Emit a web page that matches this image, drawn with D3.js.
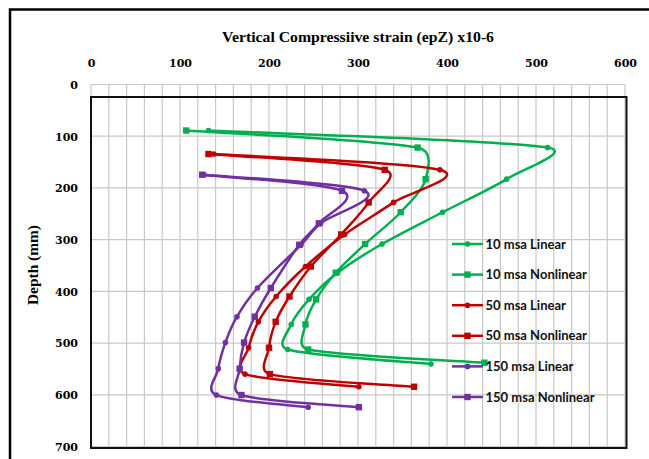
<!DOCTYPE html>
<html>
<head>
<meta charset="utf-8">
<script src="https://cdn.jsdelivr.net/npm/d3@7"></script>
<style>
  html, body { margin: 0; padding: 0; background: #fff; }
  svg { display: block; }
</style>
</head>
<body>
<svg id="chart" width="649" height="459"></svg>
<script>
// Axis ticks
const strainTicks = [0, 100, 200, 300, 400, 500, 600];
const depthTicks = [0, 100, 200, 300, 400, 500, 600, 700];

// 10 msa (green)
const depth10Lin = [89, 122, 183, 247, 308.5, 364, 415.5, 464, 512.5, 540.5];
const strain10Lin = [132, 513, 467, 395, 327, 277, 245, 225, 221, 382];
const depth10Non = [89, 122, 183, 247, 308.5, 364, 415.5, 464, 512.5, 538];
const strain10Non = [107, 367, 376, 348, 308, 275, 253, 241, 244, 442];

// 50 msa (red)
const depth50 = [134.5, 165, 228, 290, 352, 410, 459, 509, 560, 584.5];
const strain50Lin = [138, 392, 340, 285, 241, 208, 188, 177, 173, 301];
const strain50Non = [132, 330, 312, 281, 247, 223, 207.5, 200, 201, 363];

// 150 msa (purple)
const depth150 = [174.5, 205.5, 268.5, 310, 393.5, 449, 499, 549.5, 600.5, 624];
const strain150Lin = [127, 307, 258, 236, 187, 164, 151, 143, 141, 244];
const strain150Non = [125, 282, 256, 234, 202, 184, 172, 167, 169, 301];

const seriesNames = ["10 msa Linear", "10 msa Nonlinear", "50 msa Linear",
                     "50 msa Nonlinear", "150 msa Linear", "150 msa Nonlinear"];
const seriesColors = ["#00B050", "#00B050", "#C00000", "#C00000", "#7030A0", "#7030A0"];
const seriesMarkers = ["circle", "square", "circle", "square", "circle", "square"];

const series = [
  { strain: strain10Lin, depth: depth10Lin },
  { strain: strain10Non, depth: depth10Non },
  { strain: strain50Lin, depth: depth50 },
  { strain: strain50Non, depth: depth50 },
  { strain: strain150Lin, depth: depth150 },
  { strain: strain150Non, depth: depth150 }
].map((s, i) => ({
  name: seriesNames[i], color: seriesColors[i], marker: seriesMarkers[i],
  points: s.strain.map((v, j) => ({ x: v, y: s.depth[j] }))
}));

const svg = d3.select("#chart");

const x = d3.scaleLinear().domain([0, 600]).range([91, 625]);
const y = d3.scaleLinear().domain([0, 700]).range([84.5, 446.5]);

// Outer chart frame
svg.append("rect")
  .attr("x", 10).attr("y", 9.5)
  .attr("width", 700).attr("height", 500)
  .attr("fill", "none").attr("stroke", "#000").attr("stroke-width", 2.5);

// Gridlines
const grid = svg.append("g");
grid.selectAll("line.v")
  .data(d3.range(0, 601, 20))
  .join("line")
  .attr("x1", d => x(d)).attr("x2", d => x(d))
  .attr("y1", y(0)).attr("y2", y(700))
  .attr("stroke", "#c8c8c8").attr("stroke-width", 1.2);
grid.selectAll("line.h")
  .data(depthTicks)
  .join("line")
  .attr("x1", x(0)).attr("x2", x(600))
  .attr("y1", d => y(d)).attr("y2", d => y(d))
  .attr("stroke", "#c8c8c8").attr("stroke-width", 1.2);

// Plot-area border
svg.append("rect")
  .attr("x", x(0)).attr("y", y(0) + 12.5)
  .attr("width", x(600) - x(0) + 1.5)
  .attr("height", y(700) - y(0) - 11)
  .attr("fill", "none").attr("stroke", "#111").attr("stroke-width", 2);

// Axes (top strain axis, left depth axis)
const tickFont = "'DejaVu Serif', serif";
const xAxis = d3.axisTop(x).tickValues(strainTicks).tickSize(0).tickPadding(0);
const gx = svg.append("g").attr("transform", "translate(0,67)").call(xAxis);
gx.select(".domain").remove();
gx.selectAll("text")
  .attr("font-family", tickFont).attr("font-weight", "bold")
  .attr("font-size", 11).attr("fill", "#000").attr("dy", 0);

const yAxis = d3.axisLeft(y).tickValues(depthTicks).tickSize(0).tickPadding(0);
const gy = svg.append("g").attr("transform", "translate(78,0)").call(yAxis);
gy.select(".domain").remove();
gy.selectAll("text")
  .attr("font-family", tickFont).attr("font-weight", "bold")
  .attr("font-size", 11).attr("fill", "#000").attr("dy", "0.35em");

// Titles
svg.append("text")
  .attr("x", 358).attr("y", 41.5)
  .attr("text-anchor", "middle")
  .attr("font-family", "'Liberation Serif', serif").attr("font-weight", "bold")
  .attr("font-size", 14).attr("fill", "#000")
  .attr("textLength", 272).attr("lengthAdjust", "spacingAndGlyphs")
  .text("Vertical Compressiive strain (epZ) x10-6");

svg.append("text")
  .attr("transform", "translate(38,265) rotate(-90)")
  .attr("text-anchor", "middle")
  .attr("font-family", "'Liberation Serif', serif").attr("font-weight", "bold")
  .attr("font-size", 14).attr("fill", "#000")
  .attr("textLength", 80).attr("lengthAdjust", "spacingAndGlyphs")
  .text("Depth (mm)");

// Smoothed path: cubic Bezier segments with Catmull-Rom style tangents
// (1/6 of the neighbour difference), each handle capped at half the
// length of the segment it belongs to so short legs don't loop.
function smoothPath(pts) {
  const P = pts.map(p => [x(p.x), y(p.y)]);
  const n = P.length;
  const tan = P.map((p, i) => {
    const a = P[Math.max(0, i - 1)], b = P[Math.min(n - 1, i + 1)];
    return [(b[0] - a[0]) / 6, (b[1] - a[1]) / 6];
  });
  const cap = (t, len) => {
    const l = Math.hypot(t[0], t[1]);
    const m = len / 2;
    return l > m && l > 0 ? [t[0] * m / l, t[1] * m / l] : t;
  };
  const path = d3.path();
  path.moveTo(P[0][0], P[0][1]);
  for (let i = 0; i < n - 1; i++) {
    const p0 = P[i], p1 = P[i + 1];
    const len = Math.hypot(p1[0] - p0[0], p1[1] - p0[1]);
    const t0 = cap(tan[i], len), t1 = cap(tan[i + 1], len);
    path.bezierCurveTo(p0[0] + t0[0], p0[1] + t0[1],
                       p1[0] - t1[0], p1[1] - t1[1], p1[0], p1[1]);
  }
  return path.toString();
}

function drawMarker(g, type, color, cx, cy) {
  if (type === "circle") {
    g.append("circle").attr("cx", cx).attr("cy", cy).attr("r", 2.8).attr("fill", color);
  } else {
    g.append("rect").attr("x", cx - 3.2).attr("y", cy - 3.2)
      .attr("width", 6.4).attr("height", 6.4).attr("fill", color);
  }
}

const plot = svg.append("g");
series.forEach(s => {
  const g = plot.append("g");
  g.append("path")
    .attr("d", smoothPath(s.points))
    .attr("fill", "none").attr("stroke", s.color)
    .attr("stroke-width", 2.5).attr("stroke-linejoin", "round");
  s.points.forEach(p => drawMarker(g, s.marker, s.color, x(p.x), y(p.y)));
});

// Legend
const legend = svg.append("g");
series.forEach((s, i) => {
  const ly = 244 + i * 30.6;
  const g = legend.append("g");
  g.append("line").attr("x1", 452).attr("x2", 483)
    .attr("y1", ly).attr("y2", ly)
    .attr("stroke", s.color).attr("stroke-width", 2.5);
  drawMarker(g, s.marker, s.color, 467.5, ly);
  g.append("text").attr("x", 485.5).attr("y", ly).attr("dy", "0.36em")
    .attr("font-family", "Lato, 'Open Sans', sans-serif").attr("font-weight", "bold")
    .attr("font-size", 13).attr("fill", "#111")
    .text(s.name);
});
</script>
</body>
</html>
